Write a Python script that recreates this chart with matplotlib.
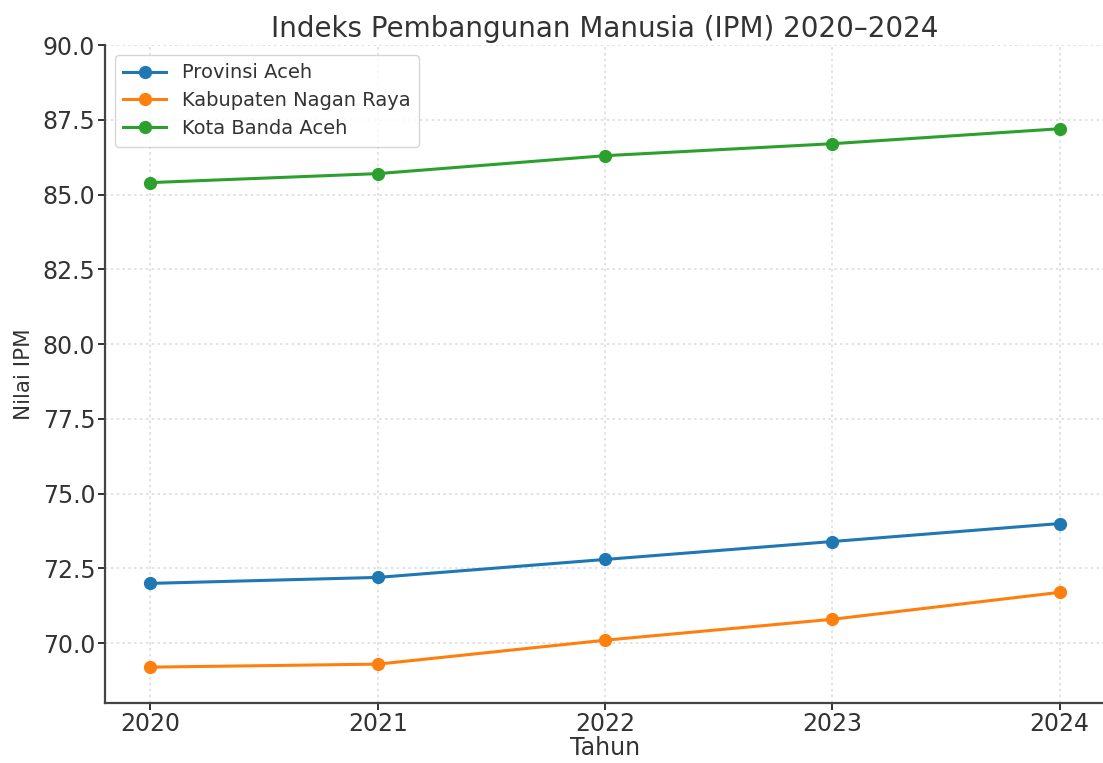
import matplotlib
matplotlib.use("Agg")
import matplotlib.pyplot as plt

years = [2020, 2021, 2022, 2023, 2024]
provinsi_aceh = [72.0, 72.2, 72.8, 73.4, 74.0]
nagan_raya = [69.2, 69.3, 70.1, 70.8, 71.7]
banda_aceh = [85.4, 85.7, 86.3, 86.7, 87.2]
series_labels = ["Provinsi Aceh", "Kabupaten Nagan Raya", "Kota Banda Aceh"]
yticks = [70.0, 72.5, 75.0, 77.5, 80.0, 82.5, 85.0, 87.5, 90.0]

plt.rcParams['font.family'] = ['DejaVu Sans']
text_color = '#333333'

fig = plt.figure(figsize=(11.03, 7.63), dpi=100)
ax = fig.add_axes([0.0952, 0.0786, 0.9066, 0.8624])

colors = ['#1f77b4', '#ff7f0e', '#2ca02c']
for vals, lab, c in zip([provinsi_aceh, nagan_raya, banda_aceh], series_labels, colors):
    ax.plot(years, vals, marker='o', color=c, lw=2.2, ms=8.5, label=lab)

ax.set_xlim(2019.8, 2024.2)
ax.set_ylim(68.0, 90.0)
ax.set_xticks(years)
ax.set_xticklabels([str(y) for y in years])
ax.set_yticks(yticks)
ax.set_yticklabels([f"{v:.1f}" for v in yticks])

ax.grid(True, linestyle=(0, (1.5, 2.0)), color='#dddddd', lw=1.2)
for s in ['top', 'right']:
    ax.spines[s].set_visible(False)
for s in ['left', 'bottom']:
    ax.spines[s].set_color('#444444')
    ax.spines[s].set_linewidth(1.6)
ax.tick_params(labelsize=17, colors=text_color, length=5, width=1.4)
ax.tick_params(axis='x', pad=1.5)
ax.tick_params(axis='y', pad=2)
for lbl in ax.get_xticklabels() + ax.get_yticklabels():
    lbl.set_color(text_color)

ax.set_title("Indeks Pembangunan Manusia (IPM) 2020\u20132024", fontsize=20, color=text_color, pad=6)
ax.set_xlabel("Tahun", fontsize=17, color=text_color, labelpad=0)
ax.set_ylabel("Nilai IPM", fontsize=15.5, color=text_color, labelpad=6)

leg = ax.legend(loc='upper left', fontsize=14, frameon=True, borderaxespad=0.5,
                handlelength=2.2, labelspacing=0.45, borderpad=0.45)
for t in leg.get_texts():
    t.set_color(text_color)

fig.savefig("out.png", dpi=100)
